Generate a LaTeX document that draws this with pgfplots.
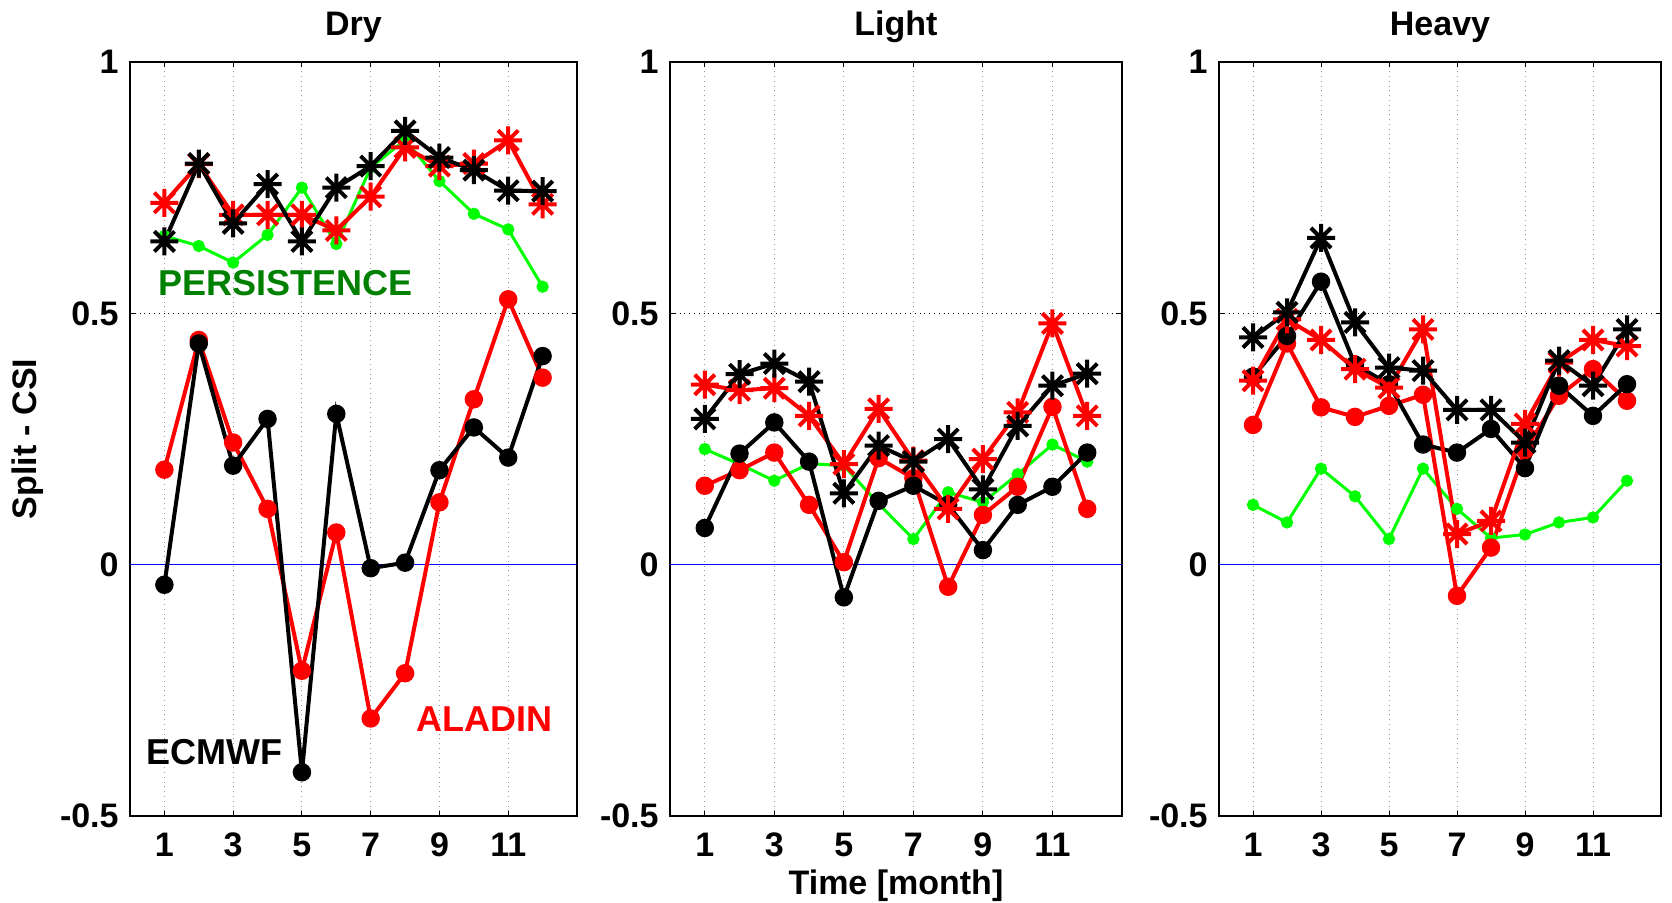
\documentclass[border=0pt]{standalone}
\usepackage{fontspec}
\setmainfont{Liberation Sans}
\usepackage{pgfplots}
\usepackage{pgfplotstable}
\pgfplotsset{compat=1.18}

\definecolor{lgreen}{rgb}{0,1,0}
\definecolor{dgreen}{rgb}{0,0.5,0}

\pgfdeclareplotmark{mstar}{%
  \pgfpathmoveto{\pgfpoint{-\pgfplotmarksize}{0pt}}%
  \pgfpathlineto{\pgfpoint{\pgfplotmarksize}{0pt}}%
  \pgfpathmoveto{\pgfpoint{0pt}{-\pgfplotmarksize}}%
  \pgfpathlineto{\pgfpoint{0pt}{\pgfplotmarksize}}%
  \pgfpathmoveto{\pgfpoint{-0.72\pgfplotmarksize}{-0.72\pgfplotmarksize}}%
  \pgfpathlineto{\pgfpoint{0.72\pgfplotmarksize}{0.72\pgfplotmarksize}}%
  \pgfpathmoveto{\pgfpoint{-0.72\pgfplotmarksize}{0.72\pgfplotmarksize}}%
  \pgfpathlineto{\pgfpoint{0.72\pgfplotmarksize}{-0.72\pgfplotmarksize}}%
  \pgfusepathqstroke}

% columns: x, ECMWF star, ALADIN star, persistence, ECMWF dot, ALADIN dot
\pgfplotstableread{
x  es     as     p      ed      ad
1  0.643  0.720  0.654  -0.040  0.189
2  0.798  0.797  0.634  0.440   0.447
3  0.679  0.696  0.601  0.197   0.243
4  0.757  0.696  0.656  0.290   0.111
5  0.643  0.696  0.750  -0.413  -0.211
6  0.750  0.665  0.638  0.300   0.064
7  0.793  0.732  0.790  -0.007  -0.306
8  0.863  0.830  0.845  0.004   -0.216
9  0.810  0.793  0.763  0.188   0.124
10 0.785  0.798  0.698  0.273   0.329
11 0.744  0.844  0.667  0.213   0.528
12 0.743  0.717  0.553  0.415   0.372
}\dry

\pgfplotstableread{
x  es     as     p      ed      ad
1  0.290  0.358  0.230  0.073   0.157
2  0.379  0.347  0.200  0.221   0.188
3  0.400  0.351  0.167  0.283   0.223
4  0.364  0.296  0.201  0.205   0.119
5  0.142  0.200  0.197  -0.065  0.005
6  0.237  0.310  0.121  0.127   0.212
7  0.205  0.207  0.051  0.157   0.172
8  0.250  0.111  0.144  0.119   -0.044
9  0.150  0.210  0.124  0.029   0.099
10 0.276  0.303  0.180  0.119   0.155
11 0.356  0.480  0.239  0.155   0.314
12 0.380  0.296  0.205  0.223   0.111
}\light

\pgfplotstableread{
x  es     as     p      ed      ad
1  0.452  0.366  0.119  0.374   0.278
2  0.502  0.488  0.084  0.455   0.440
3  0.650  0.447  0.191  0.563   0.313
4  0.482  0.389  0.136  0.398   0.294
5  0.392  0.352  0.051  0.359   0.316
6  0.386  0.468  0.191  0.239   0.338
7  0.308  0.061  0.111  0.223   -0.062
8  0.308  0.087  0.053  0.270   0.034
9  0.243  0.280  0.060  0.192   0.228
10 0.406  0.402  0.084  0.356   0.336
11 0.356  0.447  0.094  0.296   0.389
12 0.468  0.435  0.167  0.359   0.326
}\heavy

\pgfplotsset{
  panel/.style={
    scale only axis, height=377pt,
    xmin=0, xmax=13, ymin=-0.5, ymax=1,
    xtick={1,3,5,7,9,11}, xticklabels={1,3,5,7,9,11},
    ytick={-0.5,0,0.5,1}, yticklabels={-0.5,0,0.5,1},
    tick align=inside, major tick length=2.5pt,
    tick style={black, line width=0.5pt},
    axis line style={line width=0.8pt},
    xmajorgrids, ymajorgrids,
    x grid style={gray!80, dotted, line width=0.5pt},
    y grid style={black, dotted, line width=0.4pt},
    tick label style={font=\fontsize{17}{17}\selectfont\bfseries},
    xticklabel style={anchor=base, yshift=-20pt, inner sep=0pt},
    yticklabel style={anchor=east, inner sep=0pt, xshift=-5.5pt},
    title style={at={(axis description cs:0.5,1.0186)}, anchor=base,
                 font=\fontsize{17}{17}\selectfont\bfseries},
    label style={font=\fontsize{17}{17}\selectfont\bfseries},
  },
  ecs/.style={black, line width=2pt, mark=mstar, mark size=7pt, mark options={line width=2pt}},
  als/.style={red, line width=2pt, mark=mstar, mark size=7pt, mark options={line width=2pt}},
  per/.style={lgreen, line width=1.5pt, mark=*, mark size=2.3pt},
  ecd/.style={black, line width=2pt, mark=*, mark size=3.6pt},
  ald/.style={red, line width=2pt, mark=*, mark size=3.6pt},
  zl/.style={blue, line width=0.6pt},
}

\begin{document}
\begin{tikzpicture}
% ---------------- Dry
\begin{axis}[panel, width=223.5pt, title={Dry},
  ylabel={Split - CSI},
  ylabel style={at={(axis description cs:-0.2087,0.5)}, anchor=base}]
\addplot[zl] coordinates {(0,0) (13,0)};
\addplot[per] table[x=x,y=p] {\dry};
\addplot[ald] table[x=x,y=ad] {\dry};
\addplot[ecd] table[x=x,y=ed] {\dry};
\addplot[als] table[x=x,y=as] {\dry};
\addplot[ecs] table[x=x,y=es] {\dry};
\node[anchor=west, text=dgreen, inner sep=0pt, font=\fontsize{18}{18}\selectfont\bfseries] at (axis cs:0.81,0.561) {PERSISTENCE};
\node[anchor=west, text=black, inner sep=0pt, font=\fontsize{18}{18}\selectfont\bfseries] at (axis cs:0.46,-0.372) {ECMWF};
\node[anchor=west, text=red, inner sep=0pt, font=\fontsize{18}{18}\selectfont\bfseries] at (axis cs:8.32,-0.308) {ALADIN};
\end{axis}
% ---------------- Light
\begin{axis}[panel, width=226pt, at={(270pt,0pt)}, anchor=south west, title={Light},
  xlabel={Time [month]},
  xlabel style={at={(axis description cs:0.5,-0.1037)}, anchor=base}]
\addplot[zl] coordinates {(0,0) (13,0)};
\addplot[per] table[x=x,y=p] {\light};
\addplot[ald] table[x=x,y=ad] {\light};
\addplot[ecd] table[x=x,y=ed] {\light};
\addplot[als] table[x=x,y=as] {\light};
\addplot[ecs] table[x=x,y=es] {\light};
\end{axis}
% ---------------- Heavy
\begin{axis}[panel, width=221pt, at={(544.5pt,0pt)}, anchor=south west, title={Heavy}]
\addplot[zl] coordinates {(0,0) (13,0)};
\addplot[per] table[x=x,y=p] {\heavy};
\addplot[ald] table[x=x,y=ad] {\heavy};
\addplot[ecd] table[x=x,y=ed] {\heavy};
\addplot[als] table[x=x,y=as] {\heavy};
\addplot[ecs] table[x=x,y=es] {\heavy};
\end{axis}
\pgfresetboundingbox
\useasboundingbox (-65pt,-43pt) rectangle (771pt,408pt);
\end{tikzpicture}
\end{document}
